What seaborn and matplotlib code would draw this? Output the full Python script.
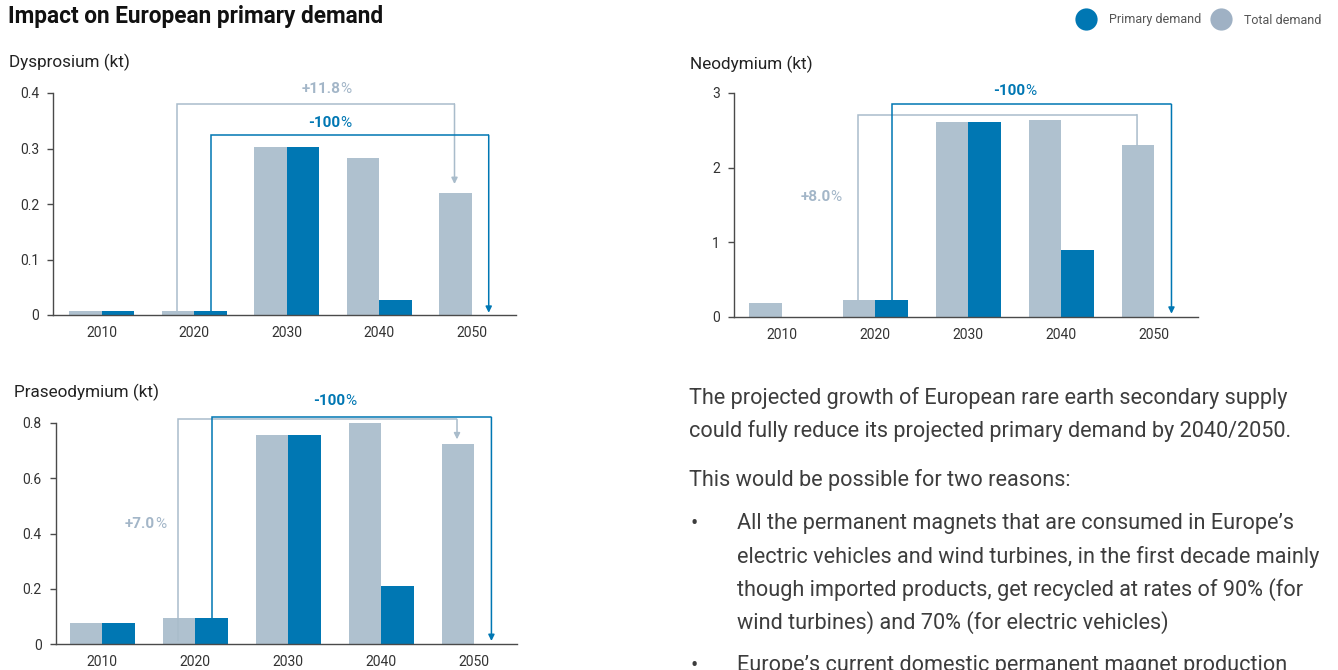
import matplotlib
matplotlib.use("Agg")
import matplotlib.pyplot as plt
from matplotlib.lines import Line2D
from matplotlib.ticker import FuncFormatter
import pandas as pd
import seaborn as sns

# ---- data -------------------------------------------------------------
years = ["2010", "2020", "2030", "2040", "2050"]

dy_total = [0.007, 0.008, 0.302, 0.283, 0.220]
dy_primary = [0.007, 0.008, 0.302, 0.027, 0.0]

nd_total = [0.18, 0.22, 2.61, 2.64, 2.30]
nd_primary = [0.0, 0.22, 2.61, 0.89, 0.0]

pr_total = [0.076, 0.096, 0.754, 0.800, 0.723]
pr_primary = [0.076, 0.096, 0.754, 0.211, 0.0]

growth_labels = ["+11.8", "+8.0", "+7.0"]   # total demand, 2020-2050 CAGR
primary_labels = ["-100", "-100", "-100"]   # primary demand change

series_names = ["Total demand", "Primary demand"]

paragraph = [
    "The projected growth of European rare earth secondary supply",
    "could fully reduce its projected primary demand by 2040/2050.",
]
intro = "This would be possible for two reasons:"
bullet1 = [
    "All the permanent magnets that are consumed in Europe\u2019s",
    "electric vehicles and wind turbines, in the first decade mainly",
    "though imported products, get recycled at rates of 90% (for",
    "wind turbines) and 70% (for electric vehicles)",
]
bullet2 = ["Europe\u2019s current domestic permanent magnet production"]

# ---- style ------------------------------------------------------------
BLUE = "#0077B3"
GREY = "#AFC1CF"
GREY_LINE = "#A9BCCB"
GREY_TEXT = "#A3B6C8"
LEGEND_GREY = "#9FB1C4"
AXIS = "#4a4a4a"
TXT = "#333333"

sns.set_theme(style="white")
plt.rcParams["font.family"] = ["Roboto", "DejaVu Sans"]

W, H = 1338, 670
fig = plt.figure(figsize=(W / 100, H / 100), dpi=100)


def px_axes(left, right, top, bottom):
    return fig.add_axes([left / W, 1 - bottom / H, (right - left) / W, (bottom - top) / H])


def long_frame(total, primary):
    return pd.DataFrame({
        "year": years * 2,
        "value": list(total) + list(primary),
        "series": [series_names[0]] * len(years) + [series_names[1]] * len(years),
    })


def draw_bars(ax, total, primary, ymax, yticks, xlim):
    sns.barplot(data=long_frame(total, primary), x="year", y="value", hue="series",
                hue_order=series_names, palette=[GREY, BLUE], width=0.7, gap=0,
                linewidth=0, saturation=1, legend=False, ax=ax, zorder=2)
    ax.set_ylim(0, ymax)
    ax.set_xlim(*xlim)
    ax.set_yticks(yticks)
    ax.yaxis.set_major_formatter(FuncFormatter(lambda v, _: f"{v:g}"))
    ax.set_xlabel("")
    ax.set_ylabel("")
    for s in ["top", "right"]:
        ax.spines[s].set_visible(False)
    for s in ["left", "bottom"]:
        ax.spines[s].set_color(AXIS)
        ax.spines[s].set_linewidth(1.0)
    ax.tick_params(axis="y", left=True, length=4, width=1, color=AXIS,
                   labelsize=10, labelcolor=TXT, pad=6)
    ax.tick_params(axis="x", bottom=False, length=0, labelsize=10,
                   labelcolor=TXT, pad=8)
    ax.set_facecolor("none")


def bracket(ax, x0, x1, y0, ytop, y1, color, head=True):
    ax.plot([x0, x0, x1], [y0, ytop, ytop], color=color, lw=1.1, clip_on=False,
            zorder=4, solid_joinstyle="miter", solid_capstyle="butt")
    style = "-|>" if head else "-"
    ax.annotate("", xy=(x1, y1), xytext=(x1, ytop), annotation_clip=False,
                arrowprops=dict(arrowstyle=style, color=color, lw=1.1,
                                mutation_scale=9, shrinkA=0, shrinkB=0),
                zorder=4)


def pct_label(ax, x, y, number, color):
    t = ax.text(x, y, number, color=color, fontsize=11, fontweight="bold",
                ha="right", va="center", clip_on=False, zorder=5,
                family=["Roboto", "DejaVu Sans"])
    ax.annotate("%", xy=(1, 0.5), xycoords=t, ha="left", va="center",
                color=color, fontsize=11, annotation_clip=False,
                family=["Roboto", "DejaVu Sans"])


OFF = 0.185

# ---- Dysprosium -------------------------------------------------------
ax1 = px_axes(53, 516, 93, 315)
draw_bars(ax1, dy_total, dy_primary, 0.4, [0, 0.1, 0.2, 0.3, 0.4], (-0.527, 4.48))
bracket(ax1, 1 - OFF, 4 - OFF, dy_total[1], 0.38, dy_total[4] + 0.016, GREY_LINE)
bracket(ax1, 1 + OFF, 4 + OFF, dy_primary[1], 0.324, 0.004, BLUE)
pct_label(ax1, 2.58, 0.408, growth_labels[0], GREY_TEXT)
pct_label(ax1, 2.58, 0.346, primary_labels[0], BLUE)

# ---- Neodymium --------------------------------------------------------
ax2 = px_axes(734, 1198, 93, 316.7)
draw_bars(ax2, nd_total, nd_primary, 3, [0, 1, 2, 3], (-0.516, 4.47))
bracket(ax2, 1 - OFF, 4 - OFF, nd_total[1], 2.71, nd_total[4], GREY_LINE, head=False)
bracket(ax2, 1 + OFF, 4 + OFF, nd_primary[1], 2.85, 0.04, BLUE)
pct_label(ax2, 0.52, 1.6, growth_labels[1], GREY_TEXT)
pct_label(ax2, 2.61, 3.03, primary_labels[1], BLUE)

# ---- Praseodymium -----------------------------------------------------
ax3 = px_axes(55.7, 517, 422.7, 644.3)
draw_bars(ax3, pr_total, pr_primary, 0.8, [0, 0.2, 0.4, 0.6, 0.8], (-0.50, 4.46))
bracket(ax3, 1 - OFF, 4 - OFF, 0.012, 0.812, pr_total[4] + 0.017, GREY_LINE)
bracket(ax3, 1 + OFF, 4 + OFF, pr_primary[1], 0.82, 0.012, BLUE)
pct_label(ax3, 0.57, 0.434, growth_labels[2], GREY_TEXT)
pct_label(ax3, 2.61, 0.879, primary_labels[2], BLUE)

# ---- titles -----------------------------------------------------------
fig.text(8 / W, 1 - 17 / H, "Impact on European primary demand", fontsize=16.3,
         fontweight="bold", color="#111111", va="center", ha="left")
sub_kw = dict(fontsize=12.3, color="#222222", va="center", ha="left")
fig.text(9 / W, 1 - 62 / H, "Dysprosium (kt)", **sub_kw)
fig.text(690 / W, 1 - 64 / H, "Neodymium (kt)", **sub_kw)
fig.text(14 / W, 1 - 392 / H, "Praseodymium (kt)", **sub_kw)

# ---- legend -----------------------------------------------------------
handles = [
    Line2D([], [], ls="none", marker="o", markersize=16, markerfacecolor=BLUE,
           markeredgewidth=0),
    Line2D([], [], ls="none", marker="o", markersize=16, markerfacecolor=LEGEND_GREY,
           markeredgewidth=0),
]
fig.legend(handles, ["Primary demand", "Total demand"], ncol=2, frameon=False,
           loc="center right", bbox_to_anchor=(1 - 12 / W, 1 - 20 / H),
           handletextpad=1.2, columnspacing=1.0, handlelength=1.2,
           prop=dict(family=["Roboto", "DejaVu Sans"], size=9),
           labelcolor="#555555", borderaxespad=0)

# ---- text block -------------------------------------------------------
para_kw = dict(fontsize=15.6, color="#3d3d3d", va="center", ha="left")
for i, line in enumerate(paragraph):
    fig.text(689 / W, 1 - (398 + 33 * i) / H, line, **para_kw)
fig.text(689 / W, 1 - 480 / H, intro, **para_kw)
fig.text(691 / W, 1 - 524 / H, "\u2022", **para_kw)
for i, line in enumerate(bullet1):
    fig.text(737 / W, 1 - (524 + 33 * i) / H, line, **para_kw)
fig.text(691 / W, 1 - 667 / H, "\u2022", **para_kw)
fig.text(737 / W, 1 - 665 / H, bullet2[0], **para_kw)

fig.savefig("out.png", dpi=100, facecolor="white")
